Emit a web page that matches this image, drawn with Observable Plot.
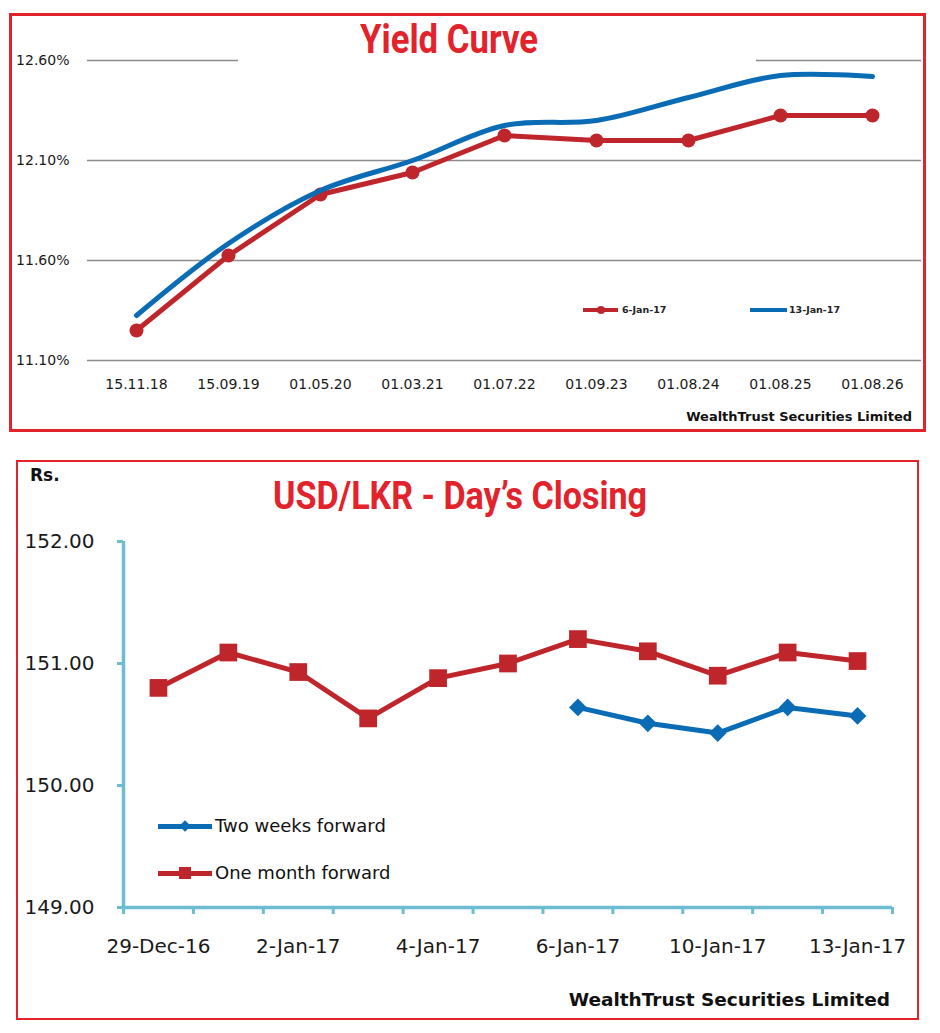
<!DOCTYPE html>
<html>
<head>
<meta charset="utf-8">
<script src="https://cdn.jsdelivr.net/npm/d3@7"></script>
<script src="https://cdn.jsdelivr.net/npm/@observablehq/plot@0.6"></script>
<style>
  body { margin: 0; background: #fff; }
  #page { position: relative; width: 940px; height: 1033px; overflow: hidden; font-family: "DejaVu Sans", sans-serif; color: #1a1a1a; }
  .abs { position: absolute; }
  .box { position: absolute; box-sizing: border-box; border: 3px solid #e3232b; }
  .title { position: absolute; color: #e3232b; font-family: Roboto, "Liberation Sans", sans-serif; font-weight: 700; white-space: nowrap; line-height: 1; transform-origin: 0 0; }
  .cap { position: absolute; font-weight: bold; white-space: nowrap; line-height: 1; color: #111; }
  .leg { position: absolute; white-space: nowrap; line-height: 1; }
</style>
</head>
<body>
<div id="page"></div>
<script>
// ---------- Yield curve data ----------
const yieldMaturities = ["15.11.18","15.09.19","01.05.20","01.03.21","01.07.22","01.09.23","01.08.24","01.08.25","01.08.26"];
const yield6Jan  = [11.25, 11.625, 11.93, 12.04, 12.225, 12.20, 12.20, 12.325, 12.325];
const yield13Jan = [11.325, 11.685, 11.95, 12.10, 12.275, 12.30, 12.415, 12.525, 12.52];
const yieldTicks = [11.10, 11.60, 12.10, 12.60];
const yieldSeriesNames = ["6-Jan-17", "13-Jan-17"];

// ---------- USD/LKR data ----------
const fxDates = ["29-Dec-16","30-Dec-16","2-Jan-17","3-Jan-17","4-Jan-17","5-Jan-17","6-Jan-17","9-Jan-17","10-Jan-17","11-Jan-17","13-Jan-17"];
const oneMonthFwd = [150.80, 151.09, 150.93, 150.55, 150.88, 151.00, 151.20, 151.10, 150.90, 151.09, 151.02];
const twoWeeksFwd = [null, null, null, null, null, null, 150.64, 150.51, 150.43, 150.64, 150.57];
const fxTicks = [149, 150, 151, 152];
const fxSeriesNames = ["Two weeks forward", "One month forward"];

const RED = "#bf262c";
const BLUE = "#0b6cb6";
const TEAL = "#6dbdd0";
const BORDER = "#e3232b";

const page = document.getElementById("page");

// ---------- Chart 1: Yield Curve ----------
const rows6 = yieldMaturities.map((m, i) => ({m, v: yield6Jan[i]}));
const rows13 = yieldMaturities.map((m, i) => ({m, v: yield13Jan[i]}));

const chart1 = Plot.plot({
  width: 940, height: 400,
  marginLeft: 87, marginRight: 19, marginTop: 60, marginBottom: 40,
  x: {type: "point", domain: yieldMaturities, padding: 0.5},
  y: {domain: [11.1, 12.6]},
  style: {fontFamily: "DejaVu Sans", fontSize: "14px", color: "#1a1a1a", background: "transparent", overflow: "visible"},
  marks: [
    Plot.ruleY(yieldTicks, {stroke: "#8c8c8c", strokeWidth: 1.3}),
    Plot.axisY({ticks: yieldTicks, tickSize: 0, tickPadding: 18, tickFormat: d => d.toFixed(2) + "%", label: null}),
    Plot.axisX({tickSize: 0, tickPadding: 19, label: null}),
    Plot.line(rows6, {x: "m", y: "v", stroke: RED, strokeWidth: 5, strokeLinejoin: "round", strokeLinecap: "round"}),
    Plot.dot(rows6, {x: "m", y: "v", r: 7, fill: RED}),
    Plot.line(rows13, {x: "m", y: "v", stroke: BLUE, strokeWidth: 5, curve: "catmull-rom", strokeLinecap: "round"})
  ]
});
chart1.style.position = "absolute";
chart1.style.left = "0px";
chart1.style.top = "0px";
page.appendChild(chart1);

// ---------- Chart 2: USD/LKR ----------
const fxOne = fxDates.map((d, i) => ({i, v: oneMonthFwd[i]}));
const fxTwo = fxDates.map((d, i) => ({i, v: twoWeeksFwd[i]})).filter(r => r.v != null);
const bandEdges = d3.range(-0.5, fxDates.length, 1);
const labelIdx = d3.range(0, fxDates.length, 2);

const chart2 = Plot.plot({
  width: 940, height: 507,
  marginLeft: 123, marginRight: 48, marginTop: 81, marginBottom: 60,
  x: {domain: [-0.5, fxDates.length - 0.5]},
  y: {domain: [149, 152]},
  style: {fontFamily: "DejaVu Sans", fontSize: "20px", color: "#1a1a1a", background: "transparent", overflow: "visible"},
  marks: [
    Plot.axisY({ticks: fxTicks, tickSize: 6, tickPadding: 23, stroke: TEAL, strokeWidth: 3, fill: "#1a1a1a", tickFormat: d => d.toFixed(2), label: null}),
    Plot.axisX({ticks: bandEdges, tickSize: 7, stroke: TEAL, strokeWidth: 3, tickFormat: () => "", label: null}),
    Plot.axisX({ticks: labelIdx, tickSize: 0, tickPadding: 31, tickFormat: i => fxDates[i], fill: "#1a1a1a", label: null}),
    Plot.ruleX([-0.5], {y1: 149, y2: 152, stroke: TEAL, strokeWidth: 3.5}),
    Plot.ruleY([149], {x1: -0.5, x2: fxDates.length - 0.5, stroke: TEAL, strokeWidth: 3.5}),
    Plot.line(fxOne, {x: "i", y: "v", stroke: RED, strokeWidth: 5, strokeLinejoin: "round"}),
    Plot.dot(fxOne, {x: "i", y: "v", symbol: "square", r: 10, fill: RED}),
    Plot.line(fxTwo, {x: "i", y: "v", stroke: BLUE, strokeWidth: 5, strokeLinejoin: "round"}),
    Plot.dot(fxTwo, {x: "i", y: "v", symbol: "diamond2", r: 8, fill: BLUE})
  ]
});
chart2.style.position = "absolute";
chart2.style.left = "0px";
chart2.style.top = "460px";
page.appendChild(chart2);

// ---------- HTML decorations ----------
function add(tag, cls, css, text) {
  const el = document.createElement(tag);
  if (cls) el.className = cls;
  Object.assign(el.style, css);
  if (text != null) el.textContent = text;
  page.appendChild(el);
  return el;
}

// boxes
add("div", "box", {left: "9px", top: "13px", width: "917px", height: "419px"});
add("div", "box", {left: "16px", top: "460px", width: "903px", height: "560px", borderWidth: "2.5px"});

// white gap behind top title (covers gridline)
add("div", "abs", {left: "238px", top: "40px", width: "518px", height: "30px", background: "#fff"});

// titles, fitted to width
function fitTitle(text, left, top, size, targetW) {
  const el = add("div", "title", {left: left + "px", top: top + "px", fontSize: size + "px"}, text);
  const w = el.getBoundingClientRect().width;
  el.style.transform = `scaleX(${targetW / w})`;
  return el;
}
fitTitle("Yield Curve", 360, 20, 40, 178);
fitTitle("USD/LKR - Day\u2019s Closing", 273, 477, 38, 374);

// captions
add("div", "cap", {right: "28px", top: "410px", fontSize: "13px"}, "WealthTrust Securities Limited");
add("div", "cap", {right: "50px", top: "991px", fontSize: "18.5px"}, "WealthTrust Securities Limited");
add("div", "cap", {left: "30px", top: "467px", fontSize: "17px"}, "Rs.");

// top legend
add("div", "abs", {left: "583px", top: "308px", width: "35px", height: "3.5px", background: RED});
add("div", "abs", {left: "597px", top: "305.5px", width: "8px", height: "8px", borderRadius: "50%", background: RED});
add("div", "leg", {left: "622px", top: "305px", fontSize: "9.5px", fontWeight: "bold", color: "#222"}, yieldSeriesNames[0]);
add("div", "abs", {left: "750px", top: "308px", width: "37px", height: "3.5px", background: BLUE});
add("div", "leg", {left: "789px", top: "305px", fontSize: "9.5px", fontWeight: "bold", color: "#222"}, yieldSeriesNames[1]);

// bottom legend
add("div", "abs", {left: "158px", top: "823.5px", width: "54px", height: "5px", background: BLUE});
add("div", "abs", {left: "181px", top: "822px", width: "8px", height: "8px", background: BLUE, transform: "rotate(45deg)"});
add("div", "leg", {left: "215px", top: "817px", fontSize: "18px", color: "#111"}, fxSeriesNames[0]);
add("div", "abs", {left: "158px", top: "870.5px", width: "54px", height: "5px", background: RED});
add("div", "abs", {left: "179px", top: "867px", width: "12px", height: "12px", background: RED});
add("div", "leg", {left: "215px", top: "864px", fontSize: "18px", color: "#111"}, fxSeriesNames[1]);
</script>
</body>
</html>
